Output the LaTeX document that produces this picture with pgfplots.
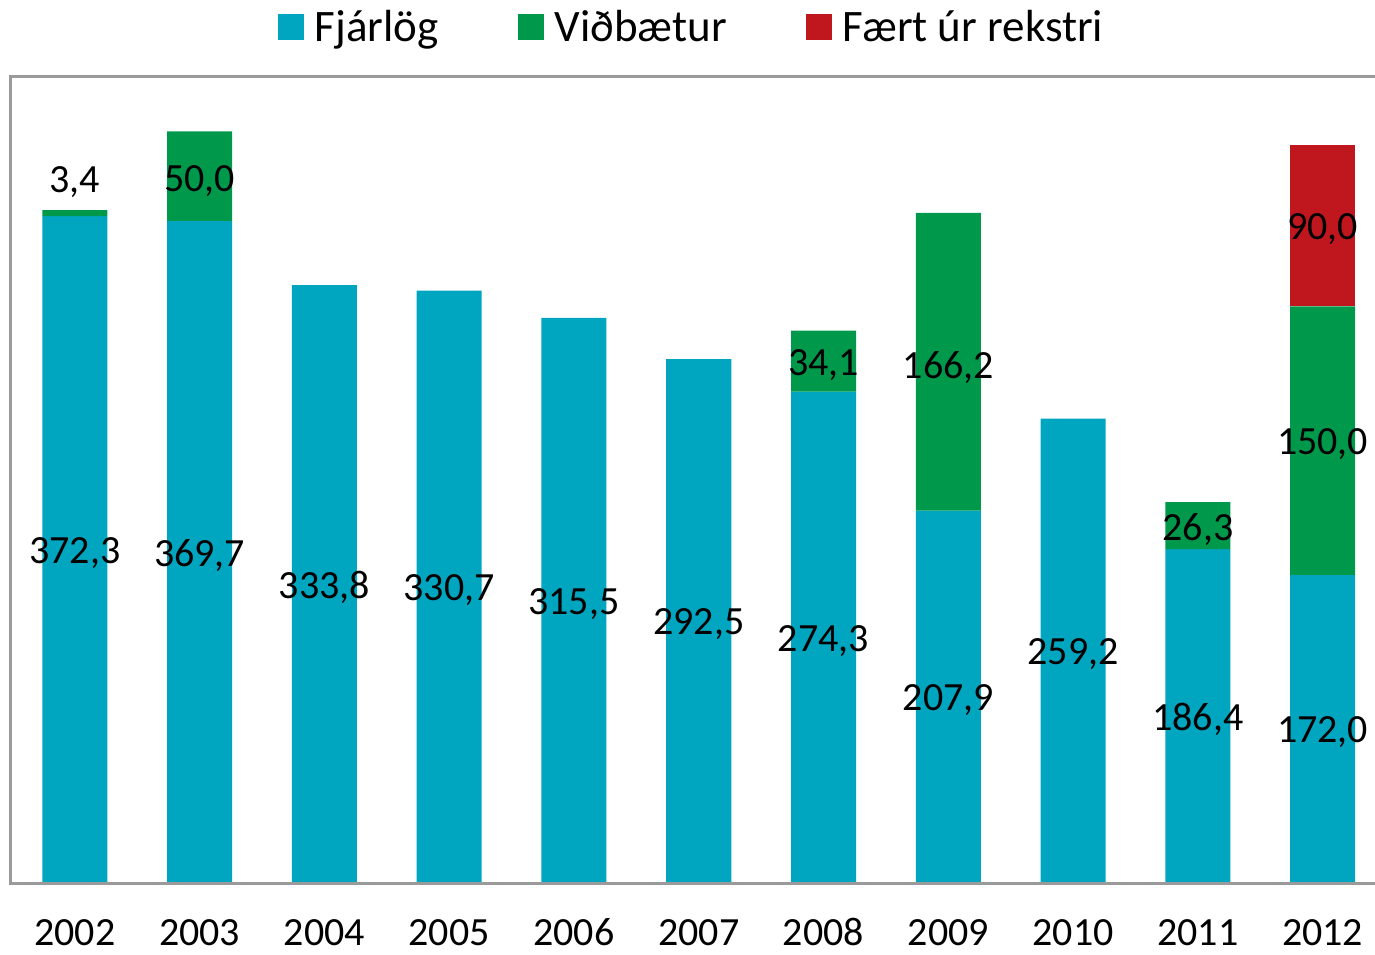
\documentclass[border=0pt]{standalone}
\usepackage{fontspec}
\setmainfont{Carlito}
\usepackage{pgfplots}
\usepackage{pgfplotstable}
\pgfplotsset{compat=1.18}
\definecolor{cBlue}{HTML}{00A5C0}
\definecolor{cGreen}{HTML}{00994C}
\definecolor{cRed}{HTML}{C0171F}
\definecolor{cFrame}{HTML}{9A9A9A}
\newcommand\lab{\fontsize{20}{24}\selectfont}
\newcommand\legfont{\fontsize{22.5}{26}\selectfont}

% Fjárlög
\pgfplotstableread{
x v
0 372.3
1 369.7
2 333.8
3 330.7
4 315.5
5 292.5
6 274.3
7 207.9
8 259.2
9 186.4
10 172.0
}\fjarlog

% Viðbætur
\pgfplotstableread{
x v
0 3.4
1 50.0
2 0
3 0
4 0
5 0
6 34.1
7 166.2
8 0
9 26.3
10 150.0
}\vidbaetur

% Fært úr rekstri
\pgfplotstableread{
x v
0 0
1 0
2 0
3 0
4 0
5 0
6 0
7 0
8 0
9 0
10 90.0
}\faert

% value labels: x, label position (axis units), text
\pgfplotstableread{
x ly lab
0 184.1 372,3
1 182.9 369,7
2 164.9 333,8
3 163.4 330,7
4 155.8 315,5
5 144.3 292,5
6 135.2 274,3
7 102.0 207,9
8 127.6 259,2
9 91.2 186,4
10 84.0 172,0
0 391.5 3,4
1 391.7 50,0
6 289.0 34,1
7 288.0 166,2
9 197.6 26,3
10 245.0 150,0
10 365.0 90,0
}\labels

\begin{document}
\begin{tikzpicture}
\begin{axis}[
  at={(0,0)}, anchor=south west,
  scale only axis, width=682.5pt, height=403pt,
  xmin=-0.52, xmax=10.42, ymin=0, ymax=450,
  clip=false,
  axis line style={draw=none},
  xtick={0,1,2,3,4,5,6,7,8,9,10},
  xticklabels={2002,2003,2004,2005,2006,2007,2008,2009,2010,2011,2012},
  ytick=\empty,
  major tick length=0pt,
  xticklabel style={font=\lab, anchor=base, inner sep=0pt, yshift=-31pt},
  sqlegend/.style={legend image code/.code={\fill[##1] (0pt,-6.5pt) rectangle (13pt,6.5pt);}},
  legend style={at={(0.5,1)}, anchor=center, yshift=25pt, draw=none, fill=none,
    font=\legfont, legend columns=3,
    /tikz/every odd column/.append style={column sep=3.5pt},
    /tikz/every even column/.append style={column sep=37.5pt}},
]
\addplot[ybar stacked, bar width=32.5pt, fill=cBlue, draw=none, sqlegend] table[x=x, y=v]{\fjarlog};
\addplot[ybar stacked, bar width=32.5pt, fill=cGreen, draw=none, sqlegend] table[x=x, y=v]{\vidbaetur};
\addplot[ybar stacked, bar width=32.5pt, fill=cRed, draw=none, sqlegend] table[x=x, y=v]{\faert};
\legend{Fjárlög, Viðbætur, Fært úr rekstri}
\addplot[forget plot, stack plots=false, only marks, mark=none, draw=none,
  nodes near coords, point meta=explicit symbolic,
  every node near coord/.append style={font=\lab, anchor=center, text=black}]
  table[x=x, y=ly, meta=lab]{\labels};
\draw[cFrame, line width=1.5pt] (rel axis cs:1,1) -- (rel axis cs:0,1) -- (rel axis cs:0,0) -- (rel axis cs:1,0);
\end{axis}
\pgfresetboundingbox
\path[use as bounding box] (-5pt,-35.5pt) rectangle (682.5pt,441.5pt);
\end{tikzpicture}
\end{document}
